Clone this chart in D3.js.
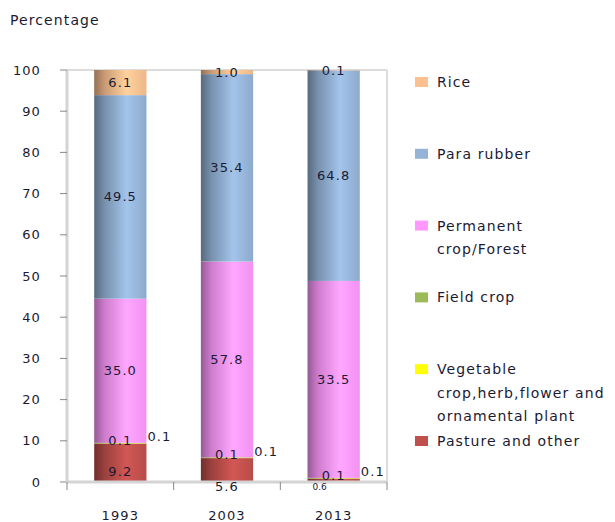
<!DOCTYPE html>
<html>
<head>
<meta charset="utf-8">
<script src="https://cdn.jsdelivr.net/npm/d3@7"></script>
<style>
  body { margin: 0; background: #fff; }
  text { font-family: "DejaVu Sans", Verdana, sans-serif; fill: #1c1a33; letter-spacing: 1.1px; }
</style>
</head>
<body>
<svg id="chart"></svg>
<script>
var years = ["1993", "2003", "2013"];
var seriesNames = ["Pasture and other", "Vegetable\ncrop,herb,flower and\nornamental plant", "Field crop",
  "Permanent\ncrop/Forest", "Para rubber", "Rice"];
var seriesColors = ["#c0504d", "#ffff00", "#9bbb59", "#ff99ff", "#95b3d7", "#fac090"];

// bar heights as drawn
var pasture = [9.3, 5.8, 0.8];
var vegetable = [0.1, 0.1, 0.1];
var fieldCrop = [0.1, 0.1, 0.1];
var permanent = [35.0, 47.5, 47.8];
var paraRubber = [49.4, 45.5, 51.1];
var rice = [6.1, 1.0, 0.1];

// numbers printed on the bars
var pastureLabels = ["9.2", "5.6", "0.6"];
var vegetableLabels = ["0.1", "0.1", "0.1"];
var fieldCropLabels = ["0.1", "0.1", "0.1"];
var permanentLabels = ["35.0", "57.8", "33.5"];
var paraRubberLabels = ["49.5", "35.4", "64.8"];
var riceLabels = ["6.1", "1.0", "0.1"];

var yTicks = [0, 10, 20, 30, 40, 50, 60, 70, 80, 90, 100];

var w = 615, h = 522;
var svg = d3.select("#chart").attr("width", w).attr("height", h);

var allValues = [pasture, vegetable, fieldCrop, permanent, paraRubber, rice];
var allLabels = [pastureLabels, vegetableLabels, fieldCropLabels, permanentLabels, paraRubberLabels, riceLabels];

var table = years.map(function(y, i) {
  var row = {year: y};
  seriesNames.forEach(function(s, k) { row[k] = allValues[k][i]; });
  return row;
});
var keys = d3.range(seriesNames.length);
var stacked = d3.stack().keys(keys)(table);

var x = d3.scaleBand().domain(years).range([67, 387]);
var y = d3.scaleLinear().domain([0, 100]).range([482, 70]);
var barW = x.bandwidth() * 0.49;

// gradients for the shaded bars
var defs = svg.append("defs");
seriesColors.forEach(function(c, k) {
  var base = d3.color(c);
  var g = defs.append("linearGradient").attr("id", "grad" + k)
    .attr("x1", "0%").attr("x2", "100%").attr("y1", "0%").attr("y2", "0%");
  g.append("stop").attr("offset", "0%").attr("stop-color", base.darker(1.5));
  g.append("stop").attr("offset", "20%").attr("stop-color", base.darker(0.6));
  g.append("stop").attr("offset", "62%").attr("stop-color", base.brighter(0.25));
  g.append("stop").attr("offset", "100%").attr("stop-color", base.darker(0.15));
});

// frame
svg.append("line").attr("x1", 67).attr("x2", 387).attr("y1", y(100)).attr("y2", y(100))
  .attr("stroke", "#dcdcdc").attr("stroke-width", 2);
svg.append("line").attr("x1", 387).attr("x2", 387).attr("y1", y(100)).attr("y2", y(0))
  .attr("stroke", "#dcdcdc").attr("stroke-width", 2);

// bars
svg.selectAll(".layer")
  .data(stacked)
  .enter()
  .append("g")
  .attr("class", "layer")
  .attr("fill", function(d) { return "url(#grad" + d.key + ")"; })
  .selectAll("rect")
  .data(function(d) { return d; })
  .enter()
  .append("rect")
  .attr("x", function(d) { return x(d.data.year) + (x.bandwidth() - barW) / 2; })
  .attr("width", barW)
  .attr("y", function(d) { return y(d[1]); })
  .attr("height", function(d) { return y(d[0]) - y(d[1]); });

// axes
var yAxis = svg.append("g");
yAxis.append("line").attr("x1", 67).attr("x2", 67).attr("y1", y(100)).attr("y2", y(0))
  .attr("stroke", "#d4d4d4").attr("stroke-width", 3);
yAxis.selectAll(".tick").data(yTicks).enter().append("line")
  .attr("x1", 60).attr("x2", 67)
  .attr("y1", function(d) { return y(d); }).attr("y2", function(d) { return y(d); })
  .attr("stroke", "#888").attr("stroke-width", 1);
yAxis.selectAll(".lab").data(yTicks).enter().append("text")
  .attr("x", 41).attr("y", function(d) { return y(d); }).attr("dy", "0.35em")
  .attr("text-anchor", "end").attr("font-size", 13)
  .text(function(d) { return d; });

var xAxis = svg.append("g");
xAxis.append("line").attr("x1", 66).attr("x2", 387).attr("y1", y(0)).attr("y2", y(0))
  .attr("stroke", "#d4d4d4").attr("stroke-width", 3);
var bounds = years.map(function(d) { return x(d); }).concat([x.range()[1]]);
xAxis.selectAll(".tick").data(bounds).enter().append("line")
  .attr("x1", function(d) { return d; }).attr("x2", function(d) { return d; })
  .attr("y1", y(0)).attr("y2", y(0) + 8)
  .attr("stroke", "#888").attr("stroke-width", 1);
xAxis.selectAll(".lab").data(years).enter().append("text")
  .attr("x", function(d) { return x(d) + x.bandwidth() / 2; })
  .attr("y", 515).attr("dy", "0.35em")
  .attr("text-anchor", "middle").attr("font-size", 13)
  .text(function(d) { return d; });

svg.append("text").attr("x", 10).attr("y", 20).attr("dy", "0.35em")
  .attr("font-size", 14).text("Percentage");

// value labels
stacked.forEach(function(layer) {
  var k = layer.key;
  layer.forEach(function(d, i) {
    var cx = x(d.data.year) + x.bandwidth() / 2;
    var top = y(d[1]), bottom = y(d[0]);
    var px = cx, py = (top + bottom) / 2, size = 13;
    if (k === 0) {
      if (bottom - top < 30) { py = bottom + 4; }
      else { py = bottom - 11; }
      if (bottom - top < 10) { size = 9; py = bottom + 5; px = cx - 14; }
    } else if (k === 1) {
      py = top - 3;
    } else if (k === 2) {
      px = cx + barW / 2 + 13;
      py = top - 6;
    }
    svg.append("text")
      .attr("x", px).attr("y", py).attr("dy", "0.35em")
      .attr("text-anchor", "middle").attr("font-size", size)
      .style("letter-spacing", size < 10 ? "0px" : null)
      .text(allLabels[k][i]);
  });
});

// legend, top entry first
var legendOrder = [5, 4, 3, 2, 1, 0];
var legend = svg.selectAll(".legend")
  .data(legendOrder)
  .enter()
  .append("g")
  .attr("class", "legend")
  .attr("transform", function(d, i) { return "translate(415," + (82 + i * 71.8) + ")"; });
legend.append("rect").attr("x", 0).attr("y", -5).attr("width", 13).attr("height", 10)
  .attr("fill", function(d) { return seriesColors[d]; });
legend.append("text")
  .attr("x", 22).attr("y", 0).attr("font-size", 14)
  .each(function(d) {
    var lines = seriesNames[d].split("\n");
    var t = d3.select(this);
    lines.forEach(function(l, j) {
      t.append("tspan").attr("x", 22).attr("y", j * 23.5).attr("dy", "0.35em").text(l);
    });
  });
</script>
</body>
</html>
